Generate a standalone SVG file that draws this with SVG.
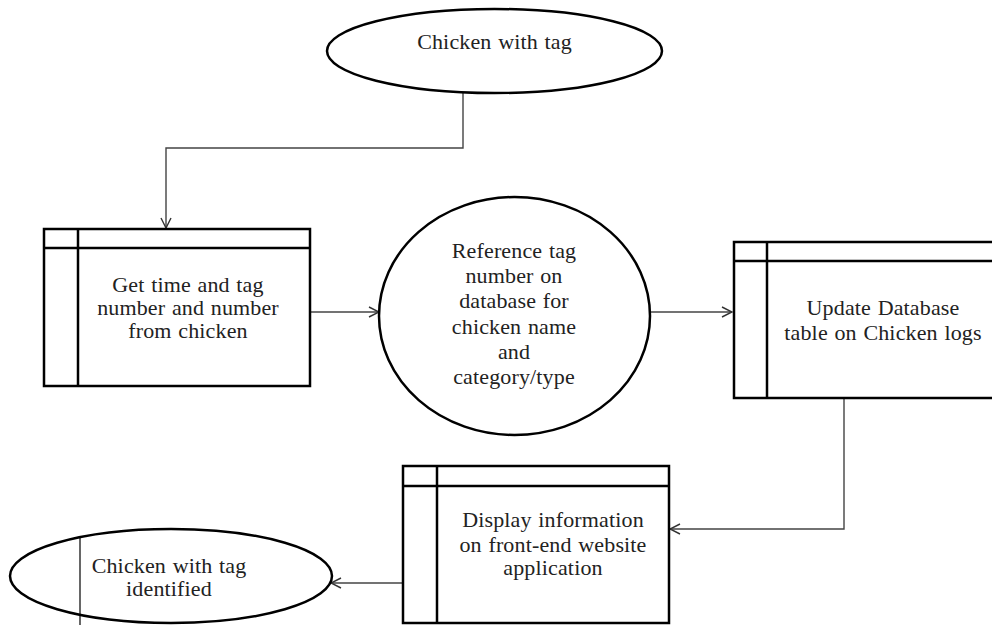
<svg xmlns="http://www.w3.org/2000/svg" width="992" height="625" viewBox="0 0 992 625">
<style>
.shape{fill:#fff;stroke:#000;stroke-width:2.5}
.div{stroke:#000;stroke-width:2.5;fill:none}
.thin{stroke:#000;stroke-width:1.2;fill:none}
.conn{stroke:#444;stroke-width:1.4;fill:none;marker-end:url(#arr)}
text{font-family:"Liberation Serif","Times New Roman",serif;font-size:22px;letter-spacing:0.15px;word-spacing:1px;fill:#222;text-anchor:middle}
</style>
<defs>
<marker id="arr" viewBox="0 0 12 12" refX="11" refY="6" markerWidth="12" markerHeight="12" markerUnits="userSpaceOnUse" orient="auto">
<path d="M1,1 L11,6 L1,11" fill="none" stroke="#333" stroke-width="1.4"/>
</marker>
</defs>
<rect width="992" height="625" fill="#fff"/>
<g id="connectors">
<path class="conn" d="M463,93 V148 H166 V228"/>
<path class="conn" d="M310,312 H379"/>
<path class="conn" d="M650,312 H732"/>
<path class="conn" d="M844,398 V529 H670"/>
<path class="conn" d="M403,583 H331"/>
</g>
<g id="start">
<ellipse class="shape" cx="494.5" cy="51" rx="167.5" ry="42" stroke-width="2.2"/>
<text x="494.5" y="49">Chicken with tag</text>
</g>
<g id="get-time">
<rect class="shape" x="44" y="229" width="266" height="157"/>
<line class="div" x1="44" y1="248" x2="310" y2="248"/>
<line class="div" x1="78" y1="229" x2="78" y2="386"/>
<text x="188" y="292">Get time and tag</text>
<text x="188" y="315">number and number</text>
<text x="188" y="338">from chicken</text>
</g>
<g id="reference">
<ellipse class="shape" cx="514.5" cy="316" rx="135.5" ry="119" stroke-width="2.2"/>
<text x="514" y="258">Reference tag</text>
<text x="514" y="283">number on</text>
<text x="514" y="308">database for</text>
<text x="514" y="334">chicken name</text>
<text x="514" y="359">and</text>
<text x="514" y="384">category/type</text>
</g>
<g id="update">
<rect class="shape" x="734" y="242" width="262" height="156"/>
<line class="div" x1="734" y1="261" x2="996" y2="261"/>
<line class="div" x1="767" y1="242" x2="767" y2="398"/>
<text x="883" y="315">Update Database</text>
<text x="883" y="340">table on Chicken logs</text>
</g>
<g id="display">
<rect class="shape" x="403" y="466" width="266" height="157"/>
<line class="div" x1="403" y1="486" x2="669" y2="486"/>
<line class="div" x1="437" y1="466" x2="437" y2="623"/>
<text x="553" y="527">Display information</text>
<text x="553" y="552">on front-end website</text>
<text x="553" y="575">application</text>
</g>
<g id="end">
<ellipse class="shape" cx="171" cy="576" rx="161" ry="47" stroke-width="2.2"/>
<line class="thin" x1="80" y1="538" x2="80" y2="625"/>
<text x="169" y="573">Chicken with tag</text>
<text x="169" y="596">identified</text>
</g>
</svg>
